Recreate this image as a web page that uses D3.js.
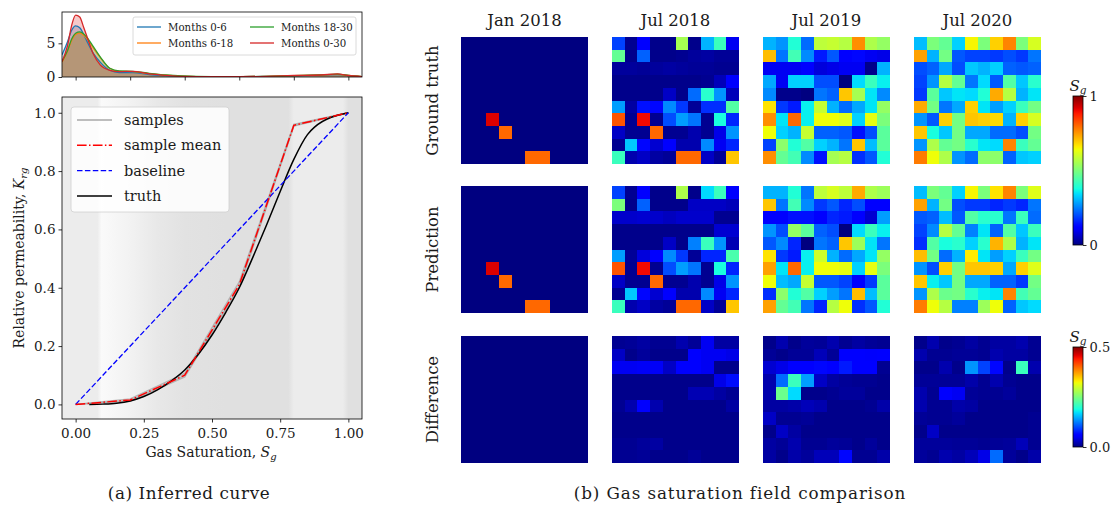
<!DOCTYPE html>
<html><head><meta charset="utf-8">
<script src="https://cdn.jsdelivr.net/npm/d3@7"></script>
<style>
body{margin:0;background:#fff}
svg text{font-family:"DejaVu Serif","Liberation Serif",serif;fill:#1a1a1a}
</style>
</head><body>
<svg id="fig" width="1114" height="505"></svg>
<script>
// ---------- (a) saturation densities ----------
const densX   = [-0.05,-0.03,-0.015,0.0,0.015,0.03,0.045,0.065,0.09,0.125,0.16,0.21,0.27,0.33,0.39,0.5,0.6,0.7,0.8,0.9,0.96,1.0,1.05];
const dens0to6   = [3.3,5.2,6.9,7.6,7.3,6.3,5.0,3.5,2.2,1.0,0.65,0.65,0.35,0.2,0.1,0.05,0.05,0.1,0.18,0.28,0.35,0.2,0.05];
const dens6to18  = [2.2,3.8,5.4,6.3,6.5,6.2,5.5,4.3,2.9,1.3,0.85,0.8,0.5,0.28,0.13,0.05,0.05,0.1,0.2,0.3,0.4,0.22,0.05];
const dens18to30 = [2.3,3.9,5.6,6.5,6.7,6.4,5.7,4.5,3.0,1.3,0.9,0.85,0.55,0.3,0.15,0.06,0.05,0.1,0.2,0.3,0.42,0.22,0.05];
const dens0to30  = [2.3,4.6,7.6,9.2,8.9,7.3,5.6,3.4,1.8,1.0,0.8,0.85,0.45,0.25,0.1,0.05,0.05,0.1,0.22,0.3,0.45,0.22,0.05];
const densNames  = ["Months 0-6","Months 6-18","Months 18-30","Months 0-30"];
const densColors = ["#1f77b4","#ff7f0e","#2ca02c","#d62728"];

// ---------- (a) relative permeability curves ----------
const knotS   = [0,0.2,0.4,0.6,0.8,1.0];
const sampleA = [0,0.011,0.094,0.400,0.954,1];
const sampleB = [0,0.019,0.106,0.420,0.960,1];
const sampleC = [0,0.014,0.099,0.405,0.957,1];
const meanK   = [0,0.015,0.100,0.410,0.957,1];
const baseS   = [0,1];
const baseK   = [0,1];
const truthS  = [0.05,0.1,0.15,0.2,0.25,0.3,0.35,0.4,0.45,0.5,0.55,0.6,0.65,0.7,0.75,0.8,0.85,0.875,1.0];
const truthK  = [0,0.001,0.004,0.012,0.027,0.05,0.08,0.118,0.172,0.238,0.315,0.40,0.505,0.615,0.73,0.84,0.925,0.95,1.0];
const curveNames = ["samples","sample mean","baseline","truth"];
const xTicksA = [0,0.25,0.5,0.75,1.0];
const yTicksA = [0,0.2,0.4,0.6,0.8,1.0];
// background shading along saturation (grey level)
const shadeS  = [-0.05,0.08,0.095,0.12,0.2,0.3,0.4,0.55,0.78,0.80,0.98,1.0,1.05];
const shadeV  = [236,236,250,248,242,232,226,224,224,236,236,224,224];

// ---------- (b) saturation fields, 10x10 ----------
const months    = ["Jan 2018","Jul 2018","Jul 2019","Jul 2020"];
const rowLabels = ["Ground truth","Prediction","Difference"];

const truthJan18 = [
[0,0,0,0,0,0,0,0,0,0],[0,0,0,0,0,0,0,0,0,0],[0,0,0,0,0,0,0,0,0,0],[0,0,0,0,0,0,0,0,0,0],
[0,0,0,0,0,0,0,0,0,0],[0,0,0,0,0,0,0,0,0,0],[0,0,0.92,0,0,0,0,0,0,0],[0,0,0,0.8,0,0,0,0,0,0],
[0,0,0,0,0,0,0,0,0,0],[0,0,0,0,0,0.8,0.8,0,0,0]];
const truthJul18 = [
[0.19,0.015,0.12,0.01,0.01,0.55,0.01,0.30,0.42,0.10],
[0.47,0.01,0.22,0.01,0.01,0.015,0.025,0.03,0.02,0.02],
[0.025,0.025,0.02,0.025,0.03,0.025,0.02,0.02,0.015,0.015],
[0.01,0.01,0.01,0.01,0.01,0.01,0.01,0.015,0.05,0.12],
[0.01,0.01,0.01,0.01,0.06,0.01,0.23,0.40,0.27,0.05],
[0.28,0.03,0.14,0.13,0.26,0.18,0.02,0.17,0.17,0.45],
[0.82,0.015,0.90,0.015,0.20,0.28,0.24,0.015,0.38,0.16],
[0.06,0.015,0.015,0.80,0.015,0.015,0.04,0.015,0.09,0.27],
[0.015,0.32,0.13,0.07,0.12,0.04,0.04,0.26,0.10,0.16],
[0.42,0.04,0.06,0.03,0.02,0.80,0.80,0.06,0.02,0.70]];
const truthJul19 = [
[0.30,0.27,0.39,0.23,0.58,0.59,0.57,0.76,0.56,0.53],
[0.71,0.24,0.43,0.26,0.15,0.21,0.12,0.13,0.10,0.09],
[0.10,0.10,0.10,0.11,0.08,0.09,0.10,0.10,0.01,0.30],
[0.29,0.10,0.33,0.33,0.20,0.20,0.0,0.34,0.42,0.36],
[0.26,0.01,0.01,0.0,0.24,0.22,0.70,0.55,0.35,0.26],
[0.67,0.18,0.15,0.36,0.59,0.30,0.23,0.29,0.35,0.53],
[0.76,0.35,0.80,0.36,0.64,0.64,0.62,0.33,0.63,0.50],
[0.64,0.33,0.30,0.59,0.22,0.22,0.21,0.14,0.20,0.46],
[0.19,0.52,0.39,0.45,0.33,0.30,0.24,0.70,0.31,0.46],
[0.76,0.47,0.43,0.26,0.14,0.55,0.57,0.17,0.21,0.39]];
const truthJul20 = [
[0.31,0.50,0.47,0.33,0.65,0.50,0.69,0.77,0.50,0.61],
[0.74,0.30,0.49,0.21,0.19,0.19,0.18,0.20,0.18,0.24],
[0.20,0.22,0.29,0.20,0.32,0.30,0.33,0.22,0.21,0.22],
[0.19,0.27,0.57,0.47,0.24,0.34,0.21,0.45,0.32,0.40],
[0.18,0.46,0.32,0.35,0.34,0.39,0.73,0.57,0.30,0.35],
[0.73,0.49,0.24,0.29,0.69,0.35,0.28,0.33,0.42,0.49],
[0.27,0.21,0.69,0.49,0.70,0.69,0.68,0.30,0.69,0.61],
[0.70,0.38,0.32,0.49,0.29,0.29,0.23,0.23,0.20,0.49],
[0.27,0.56,0.47,0.49,0.40,0.35,0.34,0.77,0.42,0.47],
[0.78,0.64,0.56,0.27,0.23,0.52,0.52,0.22,0.32,0.33]];

const predJan18 = [
[0,0,0,0,0,0,0,0,0,0],[0,0,0,0,0,0,0,0,0,0],[0,0,0,0,0,0,0,0,0,0],[0,0,0,0,0,0,0,0,0,0],
[0,0,0,0,0,0,0,0,0,0],[0,0,0,0,0,0,0,0,0,0],[0,0,0.92,0,0,0,0,0,0,0],[0,0,0,0.8,0,0,0,0,0,0],
[0,0,0,0,0,0,0,0,0,0],[0,0,0,0,0,0.8,0.8,0,0,0]];
const predJul18 = [
[0.19,0.015,0.12,0.01,0.01,0.56,0.01,0.34,0.42,0.11],
[0.50,0.01,0.22,0.01,0.01,0.01,0.06,0.06,0.06,0.05],
[0.065,0.065,0.07,0.065,0.055,0.065,0.065,0.065,0.015,0.015],
[0.01,0.01,0.01,0.01,0.01,0.01,0.01,0.01,0.07,0.07],
[0.01,0.01,0.01,0.01,0.06,0.01,0.25,0.42,0.27,0.045],
[0.28,0.02,0.08,0.12,0.26,0.18,0.02,0.16,0.16,0.44],
[0.82,0.015,0.90,0.015,0.20,0.28,0.24,0.015,0.38,0.16],
[0.06,0.015,0.015,0.80,0.015,0.015,0.04,0.015,0.09,0.27],
[0.015,0.32,0.13,0.07,0.12,0.04,0.04,0.26,0.10,0.16],
[0.42,0.04,0.06,0.03,0.02,0.80,0.80,0.06,0.02,0.70]];
const predJul19 = [
[0.30,0.30,0.39,0.24,0.58,0.61,0.58,0.73,0.56,0.54],
[0.70,0.24,0.43,0.26,0.18,0.21,0.16,0.20,0.11,0.11],
[0.11,0.11,0.14,0.14,0.12,0.16,0.15,0.11,0.07,0.28],
[0.27,0.20,0.53,0.46,0.22,0.20,0.0,0.34,0.42,0.36],
[0.21,0.26,0.16,0.0,0.24,0.22,0.70,0.54,0.35,0.24],
[0.67,0.18,0.15,0.36,0.60,0.30,0.23,0.29,0.35,0.53],
[0.74,0.35,0.80,0.36,0.64,0.64,0.63,0.33,0.63,0.50],
[0.64,0.31,0.29,0.59,0.21,0.21,0.19,0.12,0.18,0.46],
[0.17,0.52,0.39,0.45,0.33,0.28,0.24,0.71,0.31,0.46],
[0.74,0.47,0.43,0.24,0.16,0.57,0.64,0.17,0.21,0.39]];
const predJul20 = [
[0.31,0.50,0.47,0.33,0.65,0.50,0.67,0.77,0.50,0.62],
[0.74,0.30,0.49,0.20,0.18,0.18,0.16,0.18,0.16,0.24],
[0.21,0.22,0.31,0.21,0.45,0.40,0.40,0.24,0.42,0.23],
[0.19,0.26,0.57,0.47,0.25,0.35,0.22,0.45,0.32,0.42],
[0.17,0.45,0.38,0.40,0.33,0.40,0.72,0.56,0.30,0.35],
[0.71,0.49,0.23,0.30,0.66,0.35,0.28,0.33,0.42,0.49],
[0.27,0.20,0.69,0.49,0.70,0.70,0.69,0.29,0.69,0.62],
[0.70,0.36,0.32,0.49,0.29,0.29,0.22,0.22,0.18,0.49],
[0.27,0.56,0.48,0.49,0.40,0.36,0.35,0.77,0.43,0.47],
[0.78,0.64,0.57,0.25,0.25,0.54,0.64,0.22,0.32,0.34]];

const diffJan18 = [
[0,0,0,0,0,0,0,0,0,0],[0,0,0,0,0,0,0,0,0,0],[0,0,0,0,0,0,0,0,0,0],[0,0,0,0,0,0,0,0,0,0],
[0,0,0,0,0,0,0,0,0,0],[0,0,0,0,0,0,0,0,0,0],[0,0,0,0,0,0,0,0,0,0],[0,0,0,0,0,0,0,0,0,0],
[0,0,0,0,0,0,0,0,0,0],[0,0,0,0,0,0,0,0,0,0]];
const diffJul18 = [
[0.008,0.01,0.015,0.008,0.008,0.02,0.01,0.05,0.015,0.015],
[0.03,0.005,0.012,0.005,0.005,0.005,0.056,0.05,0.05,0.045],
[0.05,0.05,0.052,0.052,0.03,0.056,0.056,0.05,0.005,0.005],
[0.005,0.005,0.005,0.005,0.005,0.005,0.005,0.005,0.045,0.068],
[0.005,0.005,0.005,0.005,0.005,0.005,0.022,0.022,0.015,0.008],
[0.008,0.02,0.058,0.02,0.005,0.005,0.005,0.005,0.005,0.015],
[0.005,0.005,0.005,0.005,0.005,0.005,0.005,0.005,0.005,0.005],
[0.005,0.005,0.005,0.005,0.005,0.005,0.005,0.005,0.005,0.005],
[0.008,0.008,0.012,0.015,0.005,0.005,0.005,0.005,0.005,0.005],
[0.008,0.008,0.01,0.005,0.005,0.005,0.01,0.005,0.005,0.005]];
const diffJul19 = [
[0.005,0.02,0.005,0.012,0.01,0.02,0.008,0.015,0.01,0.008],
[0.01,0.005,0.01,0.01,0.025,0.01,0.055,0.055,0.054,0.06],
[0.035,0.045,0.055,0.055,0.065,0.056,0.075,0.055,0.055,0.008],
[0.02,0.115,0.21,0.14,0.03,0.015,0.01,0.008,0.008,0.005],
[0.02,0.24,0.17,0.005,0.005,0.008,0.012,0.012,0.005,0.005],
[0.015,0.015,0.018,0.025,0.02,0.005,0.005,0.005,0.008,0.018],
[0.03,0.008,0.008,0.01,0.005,0.005,0.005,0.005,0.005,0.005],
[0.005,0.03,0.015,0.005,0.005,0.005,0.005,0.005,0.005,0.005],
[0.015,0.01,0.02,0.008,0.008,0.012,0.01,0.005,0.012,0.005],
[0.015,0.005,0.018,0.012,0.025,0.025,0.065,0.008,0.008,0.018]];
const diffJul20 = [
[0.005,0.02,0.005,0.008,0.015,0.008,0.015,0.015,0.02,0.008],
[0.02,0.008,0.008,0.01,0.01,0.008,0.02,0.015,0.015,0.008],
[0.005,0.005,0.02,0.005,0.135,0.095,0.065,0.005,0.21,0.02],
[0.01,0.01,0.01,0.01,0.018,0.008,0.02,0.008,0.005,0.005],
[0.02,0.008,0.056,0.05,0.01,0.008,0.008,0.012,0.005,0.005],
[0.02,0.008,0.008,0.018,0.015,0.005,0.005,0.005,0.005,0.005],
[0.01,0.008,0.008,0.012,0.005,0.005,0.005,0.005,0.005,0.008],
[0.005,0.03,0.005,0.005,0.005,0.005,0.005,0.005,0.005,0.008],
[0.012,0.012,0.012,0.01,0.01,0.008,0.01,0.012,0.025,0.008],
[0.012,0.008,0.02,0.015,0.025,0.045,0.115,0.012,0.005,0.018]];

const fieldRows = [
  [truthJan18,truthJul18,truthJul19,truthJul20],
  [predJan18,predJul18,predJul19,predJul20],
  [diffJan18,diffJul18,diffJul19,diffJul20]];
const cbarTicksField = [0,1];
const cbarTicksDiff  = [0,0.5];

// ---------- jet colormap ----------
const jetR = d3.scaleLinear().domain([0,0.35,0.66,0.89,1]).range([0,0,1,1,0.5]).clamp(true);
const jetG = d3.scaleLinear().domain([0,0.125,0.375,0.64,0.91,1]).range([0,0,1,1,0,0]).clamp(true);
const jetB = d3.scaleLinear().domain([0,0.11,0.34,0.65,1]).range([0.5,1,1,0,0]).clamp(true);
const jet = t => d3.rgb(255*jetR(t),255*jetG(t),255*jetB(t)).formatHex();

const svg = d3.select("#fig");
const defs = svg.append("defs");

function frame(g, x0, y0, x1, y1){
  g.append("rect").attr("x",x0).attr("y",y0).attr("width",x1-x0).attr("height",y1-y0)
   .attr("fill","none").attr("stroke","#000").attr("stroke-width",0.8);
}
function styleAxis(sel, fs){
  sel.select(".domain").remove();
  sel.selectAll(".tick line").attr("stroke","#000").attr("stroke-width",0.8);
  sel.selectAll(".tick text").attr("font-size",fs).attr("fill","#1a1a1a")
     .style("font-family","'DejaVu Serif',serif");
}

// ---------- density panel ----------
const L = {x0:62,x1:362};
const dTop = {y0:12,y1:77};
const dx = d3.scaleLinear().domain([-0.05,1.05]).range([L.x0,L.x1]);
const dy = d3.scaleLinear().domain([0,9.65]).range([dTop.y1,dTop.y0]);
const gD = svg.append("g");
defs.append("clipPath").attr("id","clipD").append("rect")
  .attr("x",L.x0).attr("y",dTop.y0).attr("width",L.x1-L.x0).attr("height",dTop.y1-dTop.y0);
const densSeries = [dens0to6,dens6to18,dens18to30,dens0to30];
const area = d3.area().x((d,i)=>dx(densX[i])).y0(dy(0)).y1(d=>dy(d)).curve(d3.curveMonotoneX);
const dline = d3.line().x((d,i)=>dx(densX[i])).y(d=>dy(d)).curve(d3.curveMonotoneX);
const gDc = gD.append("g").attr("clip-path","url(#clipD)");
densSeries.forEach((s,i)=>{
  gDc.append("path").attr("d",area(s)).attr("fill",densColors[i]).attr("fill-opacity",0.25);
});
densSeries.forEach((s,i)=>{
  gDc.append("path").attr("d",dline(s)).attr("fill","none").attr("stroke",densColors[i]).attr("stroke-width",1.3);
});
const axDx = gD.append("g").attr("transform",`translate(0,${dTop.y1})`)
  .call(d3.axisBottom(dx).tickValues([0,0.2,0.4,0.6,0.8,1.0]).tickSize(3.5).tickFormat(""));
styleAxis(axDx,13.5);
const axDy = gD.append("g").attr("transform",`translate(${L.x0},0)`)
  .call(d3.axisLeft(dy).tickValues([0,5]).tickSize(3.5).tickPadding(3).tickFormat(d3.format("d")));
styleAxis(axDy,14);
frame(gD,L.x0,dTop.y0,L.x1,dTop.y1);
// density legend
const lgD = gD.append("g");
lgD.append("rect").attr("x",133).attr("y",17).attr("width",223).attr("height",38).attr("rx",2)
  .attr("fill","#fff").attr("fill-opacity",0.85).attr("stroke","#d0d0d0").attr("stroke-width",0.8);
const lgPos = [[137,27],[137,43],[250,27],[250,43]];
densNames.forEach((n,i)=>{
  const [lx,ly] = lgPos[i];
  lgD.append("line").attr("x1",lx).attr("x2",lx+24).attr("y1",ly).attr("y2",ly)
    .attr("stroke",densColors[i]).attr("stroke-width",1.3);
  lgD.append("text").attr("x",lx+31).attr("y",ly+3.5).attr("font-size",10.2).text(n);
});

// ---------- relative permeability panel ----------
const mTop = {y0:97,y1:419};
const mx = d3.scaleLinear().domain([-0.05,1.05]).range([L.x0,L.x1]);
const my = d3.scaleLinear().domain([-0.05,1.054]).range([mTop.y1,mTop.y0]);
const gM = svg.append("g");
const grad = defs.append("linearGradient").attr("id","shade")
  .attr("gradientUnits","userSpaceOnUse").attr("x1",L.x0).attr("x2",L.x1).attr("y1",0).attr("y2",0);
shadeS.forEach((s,i)=>{
  grad.append("stop").attr("offset",(mx(s)-L.x0)/(L.x1-L.x0))
    .attr("stop-color",d3.rgb(shadeV[i],shadeV[i],shadeV[i]).formatHex());
});
gM.append("rect").attr("x",L.x0).attr("y",mTop.y0).attr("width",L.x1-L.x0).attr("height",mTop.y1-mTop.y0)
  .attr("fill","url(#shade)");
defs.append("clipPath").attr("id","clipM").append("rect")
  .attr("x",L.x0).attr("y",mTop.y0).attr("width",L.x1-L.x0).attr("height",mTop.y1-mTop.y0);
const gMc = gM.append("g").attr("clip-path","url(#clipM)");
const kline = (xs) => d3.line().x((d,i)=>mx(xs[i])).y(d=>my(d));
[sampleA,sampleB,sampleC].forEach(s=>{
  gMc.append("path").attr("d",kline(knotS)(s)).attr("fill","none")
    .attr("stroke","#a8a8a8").attr("stroke-width",1.4).attr("stroke-opacity",0.8);
});
gMc.append("path").attr("d",kline(truthS).curve(d3.curveMonotoneX)(truthK)).attr("fill","none")
  .attr("stroke","#000").attr("stroke-width",1.5);
gMc.append("path").attr("d",kline(baseS)(baseK)).attr("fill","none")
  .attr("stroke","#0000ff").attr("stroke-width",1.3).attr("stroke-dasharray","5.5,2.4");
gMc.append("path").attr("d",kline(knotS)(meanK)).attr("fill","none")
  .attr("stroke","#ff0000").attr("stroke-width",1.5).attr("stroke-dasharray","9.6,2.4,1.5,2.4");

const axMx = gM.append("g").attr("transform",`translate(0,${mTop.y1})`)
  .call(d3.axisBottom(mx).tickValues(xTicksA).tickSize(3.5).tickPadding(3).tickFormat(d3.format(".2f")));
styleAxis(axMx,13.5);
axMx.selectAll(".tick text").attr("dy","0.95em");
const axMy = gM.append("g").attr("transform",`translate(${L.x0},0)`)
  .call(d3.axisLeft(my).tickValues(yTicksA).tickSize(3.5).tickPadding(3).tickFormat(d3.format(".1f")));
styleAxis(axMy,13.5);
frame(gM,L.x0,mTop.y0,L.x1,mTop.y1);

// axis titles
const xt = gM.append("text").attr("x",211).attr("y",457).attr("text-anchor","middle").attr("font-size",14);
xt.append("tspan").text("Gas Saturation, ");
xt.append("tspan").attr("font-style","italic").text("S");
xt.append("tspan").attr("font-style","italic").attr("font-size",10).attr("dy",3).text("g");
const yt = gM.append("text").attr("transform","translate(24,258) rotate(-90)")
  .attr("text-anchor","middle").attr("font-size",14);
yt.append("tspan").text("Relative permeability, ");
yt.append("tspan").attr("font-style","italic").text("K");
yt.append("tspan").attr("font-style","italic").attr("font-size",10).attr("dy",3).text("rg");

// legend
const lgM = gM.append("g");
lgM.append("rect").attr("x",71).attr("y",107).attr("width",158).attr("height",105).attr("rx",3)
  .attr("fill","#fff").attr("fill-opacity",0.85).attr("stroke","#d0d0d0").attr("stroke-width",0.8);
const lgStyles = [
  {c:"#a8a8a8",w:1.4,d:null},
  {c:"#ff0000",w:1.5,d:"9.6,2.4,1.5,2.4"},
  {c:"#0000ff",w:1.3,d:"5.5,2.4"},
  {c:"#000000",w:1.5,d:null}];
curveNames.forEach((n,i)=>{
  const ly = 120 + i*25.3;
  const ln = lgM.append("line").attr("x1",77).attr("x2",112).attr("y1",ly).attr("y2",ly)
    .attr("stroke",lgStyles[i].c).attr("stroke-width",lgStyles[i].w);
  if (lgStyles[i].d) ln.attr("stroke-dasharray",lgStyles[i].d);
  lgM.append("text").attr("x",124).attr("y",ly+5).attr("font-size",14.5).text(n);
});
svg.append("text").attr("x",189).attr("y",499).attr("text-anchor","middle")
  .attr("font-size",16.8).attr("letter-spacing",0.6).text("(a) Inferred curve");

// ---------- (b) field panels ----------
const colX = [461,612,763,914];
const rowY = [37,186,336];
const cell = 127;
const fieldScale = d3.scaleSequential(jet).domain([0,1]);
const diffScale  = d3.scaleSequential(jet).domain([0,0.5]);
const gR = svg.append("g");
fieldRows.forEach((row,ri)=>{
  const cs = ri===2 ? diffScale : fieldScale;
  row.forEach((grid,ci)=>{
    const bx = d3.scaleBand().domain(d3.range(10)).range([colX[ci],colX[ci]+cell]);
    const by = d3.scaleBand().domain(d3.range(10)).range([rowY[ri],rowY[ri]+cell]);
    const g = gR.append("g").attr("shape-rendering","crispEdges");
    grid.forEach((r,yi)=>r.forEach((v,xi)=>{
      g.append("rect").attr("x",bx(xi)).attr("y",by(yi))
        .attr("width",bx.bandwidth()+0.4).attr("height",by.bandwidth()+0.4).attr("fill",cs(v));
    }));
  });
});
months.forEach((m,i)=>{
  gR.append("text").attr("x",colX[i]+cell/2).attr("y",26).attr("text-anchor","middle")
    .attr("font-size",16.5).text(m);
});
rowLabels.forEach((r,i)=>{
  gR.append("text").attr("transform",`translate(438,${rowY[i]+cell/2}) rotate(-90)`)
    .attr("text-anchor","middle").attr("font-size",16.5).text(r);
});

// colorbars
function colorbar(id, x, y0, y1, dom, ticks, fmt, labelY){
  const lg = defs.append("linearGradient").attr("id",id).attr("x1",0).attr("y1",1).attr("x2",0).attr("y2",0);
  d3.range(0,1.0001,0.02).forEach(t=>lg.append("stop").attr("offset",t).attr("stop-color",jet(t)));
  gR.append("rect").attr("x",x).attr("y",y0).attr("width",10).attr("height",y1-y0).attr("fill",`url(#${id})`);
  const sc = d3.scaleLinear().domain(dom).range([y1,y0]);
  const ax = gR.append("g").attr("transform",`translate(${x+10},0)`)
    .call(d3.axisRight(sc).tickValues(ticks).tickSize(3.5).tickPadding(3).tickFormat(fmt));
  styleAxis(ax,13);
  frame(gR,x,y0,x+10,y1);
  const t = gR.append("text").attr("x",x+5).attr("y",labelY).attr("text-anchor","middle").attr("font-size",15);
  t.append("tspan").attr("font-style","italic").text("S");
  t.append("tspan").attr("font-style","italic").attr("font-size",10.5).attr("dy",3).text("g");
}
colorbar("cbF",1073,96,245,[0,1],cbarTicksField,d3.format("d"),91);
colorbar("cbD",1073,347,447,[0,0.5],cbarTicksDiff,d3.format(".1f"),342);

svg.append("text").attr("x",740).attr("y",499).attr("text-anchor","middle")
  .attr("font-size",16.8).attr("letter-spacing",0.9).text("(b) Gas saturation field comparison");
</script>
</body></html>
